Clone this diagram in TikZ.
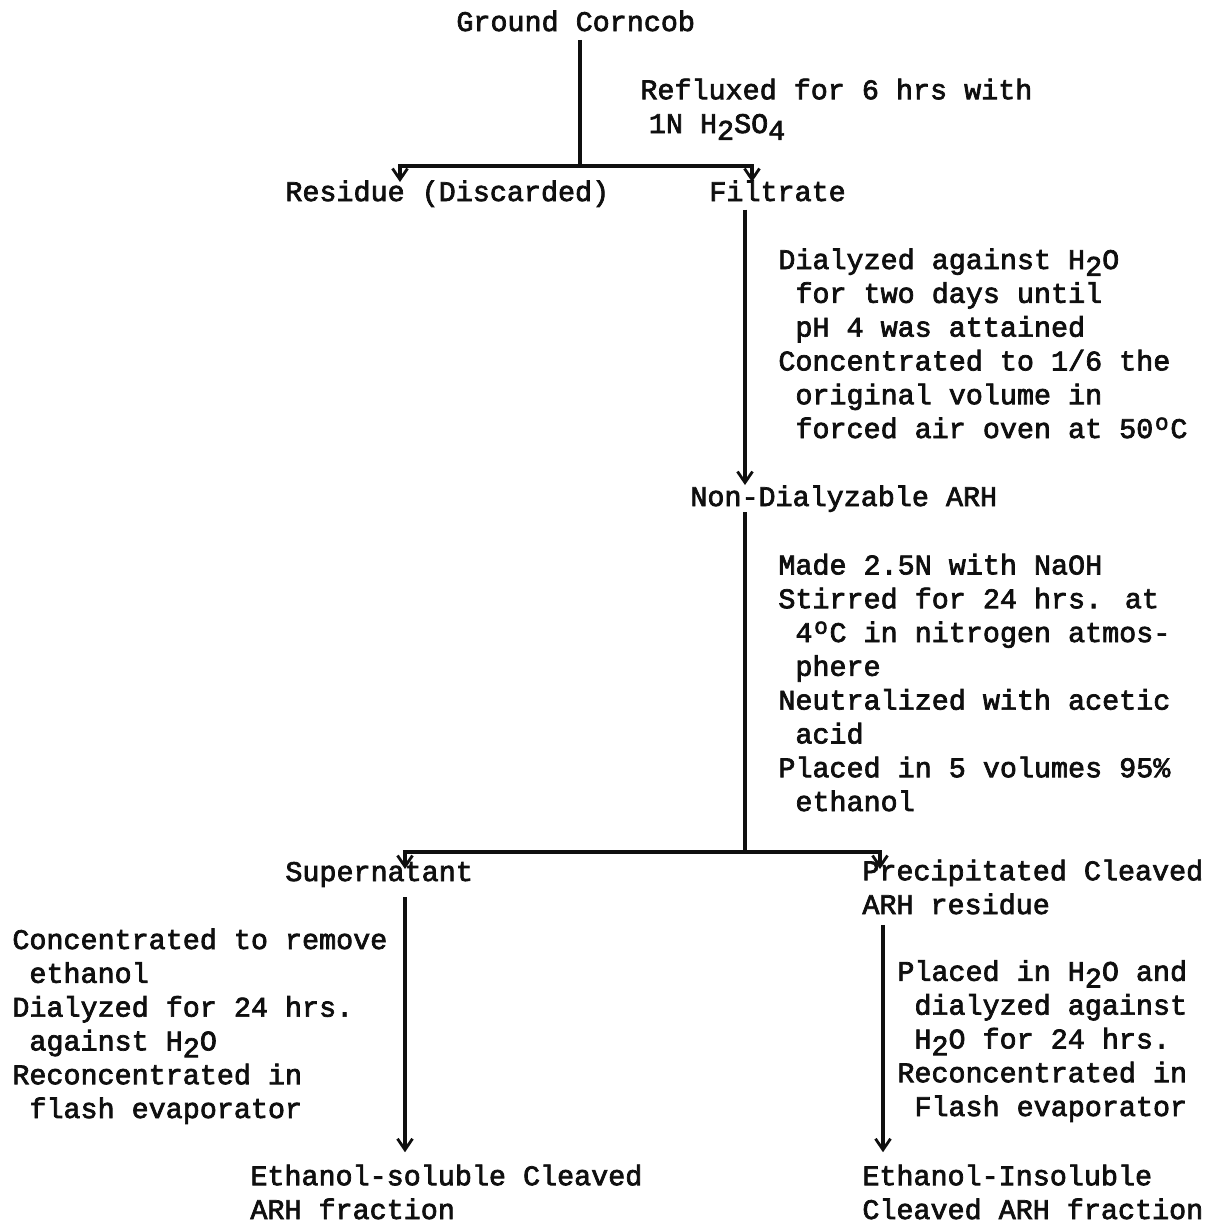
\documentclass[tikz,border=0pt]{standalone}
\usepackage{fontspec}
\setmainfont{Liberation Mono}[FakeBold=2.5]
\usepackage{graphicx}
\usetikzlibrary{arrows.meta, positioning, calc}
\definecolor{typeink}{RGB}{15, 15, 15}
\newcommand{\lo}[1]{\raisebox{-0.45ex}{#1}}
\newcommand{\ind}{\hspace*{0.6em}}
\newcommand{\degC}{\makebox[0.6em]{\raisebox{0.55ex}{\scalebox{0.8}{o}}}C}

\begin{document}
\begin{tikzpicture}[
  x=0.5pt, y=-0.5pt,
  txt/.style={anchor=base west, inner sep=0pt, align=left, text=typeink, font=\fontsize{14.2}{16.9}\selectfont},
  flowline/.style={draw=typeink, line width=1.6pt},
  barline/.style={draw=typeink, line width=2pt},
  arrowline/.style={draw=typeink, line width=1.6pt, -{Straight Barb[length=5.5pt, width=7.5pt, line width=1.4pt]}}
]
  \useasboundingbox (0,0) rectangle (1219,1223);

  % nodes sit on the baseline of their last line
  \node[txt] (ground) at (456,31) {Ground Corncob};
  \node[txt] (reflux) at (640,133) {Refluxed for 6 hrs with\\\hspace*{0.3em}1N H\lo{2}SO\lo{4}};
  \node[txt] (residue) at (285,201) {Residue (Discarded)};
  \node[txt] (filtrate) at (709,201) {Filtrate};
  \node[txt] (dialysis) at (778,438) {Dialyzed against H\lo{2}O\\\ind for two days until\\\ind pH 4 was attained\\Concentrated to 1/6 the\\\ind original volume in\\\ind forced air oven at 50\degC};
  \node[txt] (nondial) at (690,506) {Non-Dialyzable ARH};
  \node[txt] (cleave) at (778,811) {Made 2.5N with NaOH\\Stirred for 24 hrs. at\\\ind 4\degC{} in nitrogen atmos-\\\ind phere\\Neutralized with acetic\\\ind acid\\Placed in 5 volumes 95\%\\\ind ethanol};
  \node[txt] (supern) at (285,881) {Supernatant};
  \node[txt] (precip) at (862,914) {Precipitated Cleaved\\ARH residue};
  \node[txt] (solwork) at (12,1118) {Concentrated to remove\\\ind ethanol\\Dialyzed for 24 hrs.\\\ind against H\lo{2}O\\Reconcentrated in\\\ind flash evaporator};
  \node[txt] (insolwork) at (897,1116) {Placed in H\lo{2}O and\\\ind dialyzed against\\\ind H\lo{2}O for 24 hrs.\\Reconcentrated in\\\ind Flash evaporator};
  \node[txt] (solfrac) at (250,1219) {Ethanol-soluble Cleaved\\ARH fraction};
  \node[txt] (insolfrac) at (862,1219) {Ethanol-Insoluble\\Cleaved ARH fraction};

  % branch points and drops
  \coordinate (split1) at (580,166);
  \coordinate (resdrop) at (400,182);
  \coordinate (fildrop) at (752,182);
  \coordinate (spine) at (745,0);
  \coordinate (split2) at (745,852);
  \coordinate (supdrop) at (405,869);
  \coordinate (predrop) at (880,869);
  \coordinate (leftdrop) at (405,0);
  \coordinate (rightdrop) at (883,0);

  \draw[flowline, shorten <=4pt] (ground.south -| split1) -- (split1);
  \draw[barline, arrowline] (split1) -| (resdrop);
  \draw[barline, arrowline] (split1) -| (fildrop);
  \draw[arrowline, shorten <=4pt] (filtrate.south -| spine) -- (nondial.north -| spine);
  \draw[flowline] (nondial.south -| spine) -- (split2);
  \draw[barline, arrowline] (split2) -| (supdrop);
  \draw[barline, arrowline] (split2) -| (predrop);
  \draw[arrowline, shorten <=5pt, shorten >=6pt] (supern.south -| leftdrop) -- (solfrac.north -| leftdrop);
  \draw[arrowline, shorten <=5pt, shorten >=6pt] (precip.south -| rightdrop) -- (insolfrac.north -| rightdrop);
\end{tikzpicture}
\end{document}
